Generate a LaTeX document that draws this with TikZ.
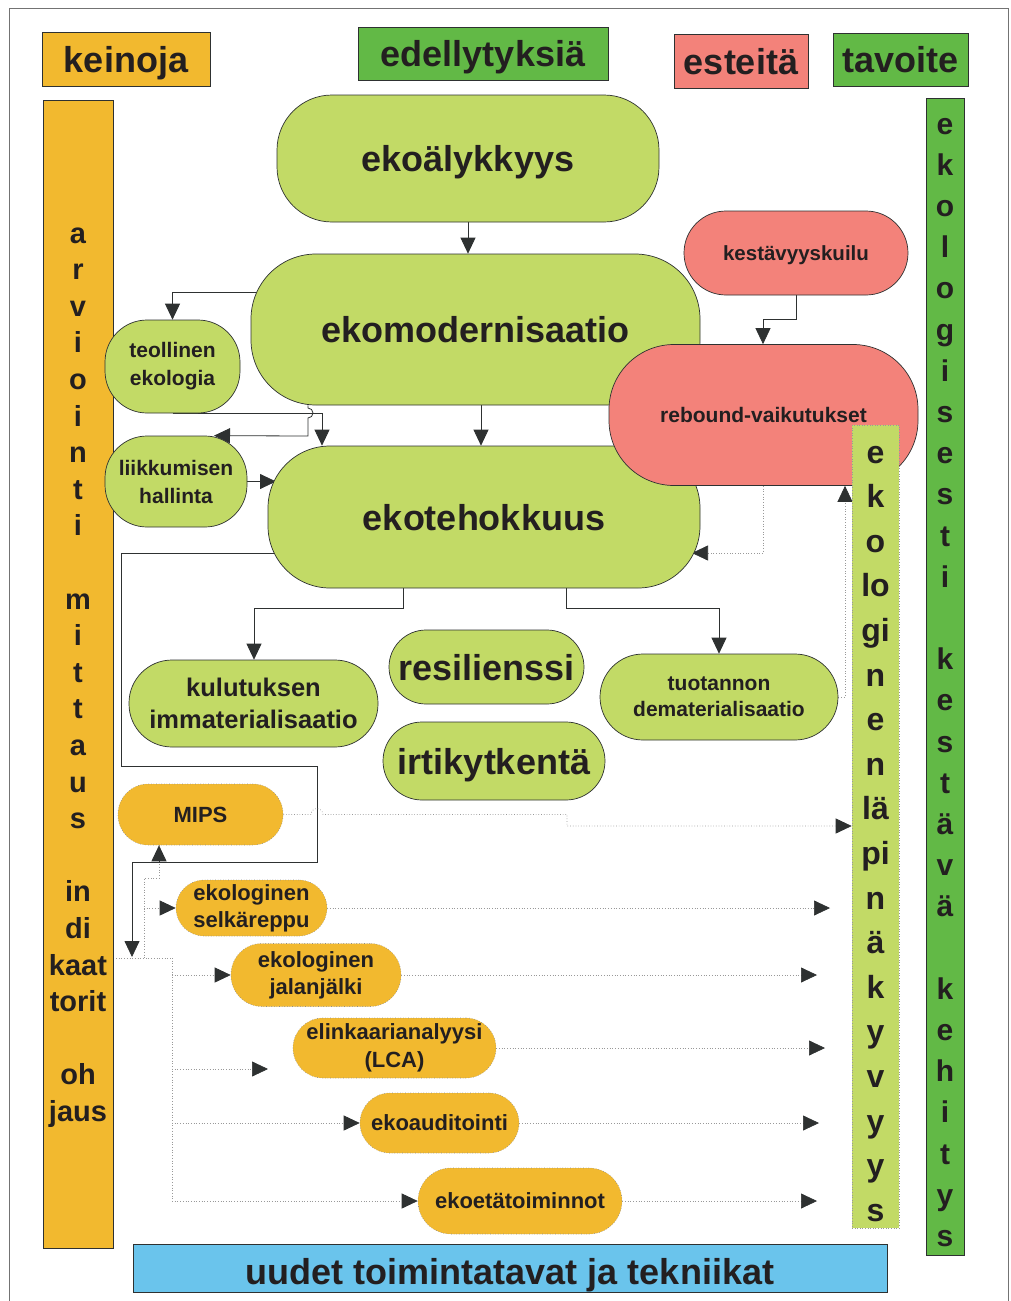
\documentclass[tikz,border=0pt]{standalone}
\usepackage{fontspec}
\setmainfont{Liberation Sans}
\usetikzlibrary{arrows.meta,backgrounds}

\definecolor{orng}{HTML}{F2B92F}
\definecolor{hgreen}{HTML}{62B946}
\definecolor{lgreen}{HTML}{C2DA66}
\definecolor{salmon}{HTML}{F3827A}
\definecolor{sky}{HTML}{6AC4EC}
\definecolor{ink}{HTML}{231F20}
\definecolor{edge}{HTML}{2E3131}

\newcommand\txt[2]{\fontsize{#1pt}{#2pt}\selectfont\bfseries}

\begin{document}
\begin{tikzpicture}[x=1pt,y=-1pt,
  gnode/.style={draw=edge, line width=0.7pt, fill=lgreen, text=ink, inner sep=0pt, align=center},
  rnode/.style={gnode, fill=salmon},
  onode/.style={draw=black!45, dotted, line width=0.6pt, fill=orng, text=ink, inner sep=0pt, align=center},
  big/.style={font={\txt{36}{40}}, text height=26pt, text depth=0pt},
  small/.style={font={\txt{#1}{#1}}, text height=0.72*#1 pt, text depth=0pt},
  hdr/.style={draw=edge, line width=0.7pt, text=ink, inner sep=0pt, big},
  bar/.style={draw=edge, line width=0.7pt, inner sep=0pt},
  letter/.style={text=ink, anchor=base, inner sep=0pt},
  conn/.style={draw=edge, line width=0.8pt, -{Triangle[length=16pt,width=15pt]}},
  dline/.style={draw=black!40, dotted, line width=0.7pt},
  dconn/.style={dline, -{Triangle[length=16pt,width=15pt,color=edge]}}
]
\useasboundingbox (0,0) rectangle (1010,1301);

% ---- headings ----
\node[hdr, fill=orng, minimum width=168pt, minimum height=54pt] (keinoja) at (126,59) {keinoja};
\node[hdr, fill=hgreen, minimum width=250pt, minimum height=53pt] (edell) at (483,53.5) {edellytyksiä};
\node[hdr, fill=salmon, minimum width=134pt, minimum height=54pt] (esteita) at (741,61) {esteitä};
\node[hdr, fill=hgreen, minimum width=135pt, minimum height=53pt] (tavoite) at (900.5,59.5) {tavoite};

% ---- side bars ----
\node[bar, fill=orng, minimum width=70pt, minimum height=1148pt] (lbar) at (78,674) {};
\node[bar, fill=hgreen, minimum width=38pt, minimum height=1157pt] (rbar) at (945,676.5) {};
\node[bar, fill=sky, minimum width=754pt, minimum height=48pt] (bbar) at (510,1268) {};
\node[letter, font={\txt{36}{40}}] (bbartext) at (510,1284) {uudet toimintatavat ja tekniikat};

% ---- main chain ----
\node[gnode, minimum width=382pt, minimum height=127pt, rounded corners=55pt, big] (aly) at (468,158.5) {ekoälykkyys};
\node[gnode, minimum width=449pt, minimum height=151pt, rounded corners=65pt, big] (mod) at (475.5,329.5) {ekomodernisaatio};
\node[gnode, minimum width=135pt, minimum height=93pt, rounded corners=42pt, font={\txt{21}{28}}] (teo) at (172.5,366.5) {teollinen\\ekologia};
\node[gnode, minimum width=142pt, minimum height=91pt, rounded corners=42pt, font={\txt{21}{28}}] (lii) at (176,481.5) {liikkumisen\\hallinta};
\node[gnode, minimum width=432pt, minimum height=142pt, rounded corners=62pt, big] (teh) at (484,517) {ekotehokkuus};
\node[rnode, minimum width=224pt, minimum height=84pt, rounded corners=42pt, small=20.5] (kes) at (796,253) {kestävyyskuilu};
\node[rnode, minimum width=309pt, minimum height=141pt, rounded corners=65pt, small=21] (reb) at (763.5,415) {rebound-vaikutukset};
\node[gnode, minimum width=249pt, minimum height=87pt, rounded corners=43pt, font={\txt{25.5}{32}}] (kul) at (253.5,703.5) {kulutuksen\\immaterialisaatio};
\node[gnode, minimum width=195pt, minimum height=74pt, rounded corners=37pt, big] (res) at (486.5,667) {resilienssi};
\node[gnode, minimum width=222pt, minimum height=78pt, rounded corners=39pt, big] (irt) at (494,761) {irtikytkentä};
\node[gnode, minimum width=238pt, minimum height=86pt, rounded corners=43pt, font={\txt{21}{26}}] (tuo) at (719,697) {tuotannon\\dematerialisaatio};

% ---- indicators ----
\node[onode, minimum width=165pt, minimum height=61pt, rounded corners=30pt, small=22] (mips) at (200.5,814.5) {MIPS};
\node[onode, minimum width=151pt, minimum height=56pt, rounded corners=28pt, font={\txt{22}{27}}] (sel) at (251.5,908) {ekologinen\\selkäreppu};
\node[onode, minimum width=170pt, minimum height=63pt, rounded corners=31pt, font={\txt{22}{27}}] (jal) at (316,975) {ekologinen\\jalanjälki};
\node[onode, minimum width=203pt, minimum height=60pt, rounded corners=30pt, font={\txt{22}{28}}] (lca) at (394.5,1048) {elinkaarianalyysi\\(LCA)};
\node[onode, minimum width=159pt, minimum height=60pt, rounded corners=30pt, small=22] (aud) at (439.5,1123) {ekoauditointi};
\node[onode, minimum width=204pt, minimum height=66pt, rounded corners=33pt, small=22] (eta) at (520,1201) {ekoetätoiminnot};

% ---- transparency bar over the rebound box ----
\node[draw=black!40, dotted, line width=0.6pt, fill=lgreen, inner sep=0pt, minimum width=47pt, minimum height=803pt] (mbar) at (875.5,826.5) {};

% ---- vertical words ----
\foreach \c [count=\i from 0] in {a,r,v,i,o,i,n,t,i,{},m,i,t,t,a,u,s,{},in,di,kaat,torit,{},oh,jaus}
  \node[letter, font={\txt{29}{30}}] (lb\i) at (78,{243+36.6*\i}) {\c};
\foreach \c [count=\i from 0] in {e,k,o,l,o,g,i,s,e,s,t,i,{},k,e,s,t,ä,v,ä,{},k,e,h,i,t,y,s}
  \node[letter, font={\txt{30}{30}}] (rb\i) at (945,{134+41.2*\i}) {\c};
\foreach \c [count=\i from 0] in {e,k,o,lo,gi,n,e,n,lä,pi,n,ä,k,y,v,y,y,s}
  \node[letter, font={\txt{32}{32}}] (mb\i) at (875.5,{463+44.6*\i}) {\c};

% ---- free arrow ends ----
\coordinate (down) at (132,957);
\coordinate (lcain) at (268,1069);
\coordinate (selout) at (830,908);
\coordinate (jalout) at (817,975);
\coordinate (lcaout) at (825,1048);
\coordinate (audout) at (819,1123);
\coordinate (etaout) at (817,1201);

\begin{pgfonlayer}{background}
  \fill[white] (0,0) rectangle (1010,1301);
  \draw[black!55, line width=1pt] (9,1301) -- (9,8) -- (1008,8) -- (1008,1301);

  % dotted links
  \draw[dline] (mips.south -| 159,0) |- (144,878) -- (144,958);
  \draw[dconn] (144,908) -- (sel.west);
  \draw[dline] (lbar.east |- 0,958) -- (172,958);
  \draw[dconn] (172,958) |- (eta.west);
  \draw[dconn] (172,975) -- (jal.west);
  \draw[dconn] (172,1069) -- (lcain);
  \draw[dconn] (172,1123) -- (aud.west);
  \draw[dconn] (sel.east) -- (selout);
  \draw[dconn] (jal.east) -- (jalout);
  \draw[dconn] (lca.east) -- (lcaout);
  \draw[dconn] (aud.east) -- (audout);
  \draw[dconn] (eta.east) -- (etaout);
  \draw[dconn] (reb.south -| 763,0) |- (692,553);
  \draw[dconn] (tuo.east) -| (reb.south -| 845,0);

  % solid links
  \draw[conn] (aly.south) -- (aly.south |- mod.north);
  \draw[conn] (mod.center |- 0,292) -| (teo.north);
  \draw[conn] (teo.south) -| (teh.north -| 322,0);
  \draw[conn] (mod.south -| 308,0) -- (308,408) arc[start angle=-90,end angle=90,radius=5] -- (308,436) -- (lii.north -| 214,0);
  \draw[conn] (lii.east) -- (276,481.5);
  \draw[conn] (mod.south -| 481,0) -- (teh.north -| 481,0);
  \draw[conn] (teh.south -| 403,0) -- ++(0,20) -| (kul.north -| 254,0);
  \draw[conn] (teh.south -| 566,0) -- ++(0,20) -| (tuo.north);
  \draw[conn] (kes.south) -- ++(0,24) -| (reb.north -| 763,0);
  \draw[conn] (teh.center |- 0,553) -| (121,766) -| (317,862) -| (down);
  \draw[conn] (159,862) -- (mips.south -| 159,0);

  % MIPS link hopping over the solid line
  \draw[dconn] (mips.east) -- (311,814.5) arc[start angle=180,end angle=360,radius=6] -- (567,814.5) |- (mbar.west |- 0,826);
\end{pgfonlayer}
\end{tikzpicture}
\end{document}
